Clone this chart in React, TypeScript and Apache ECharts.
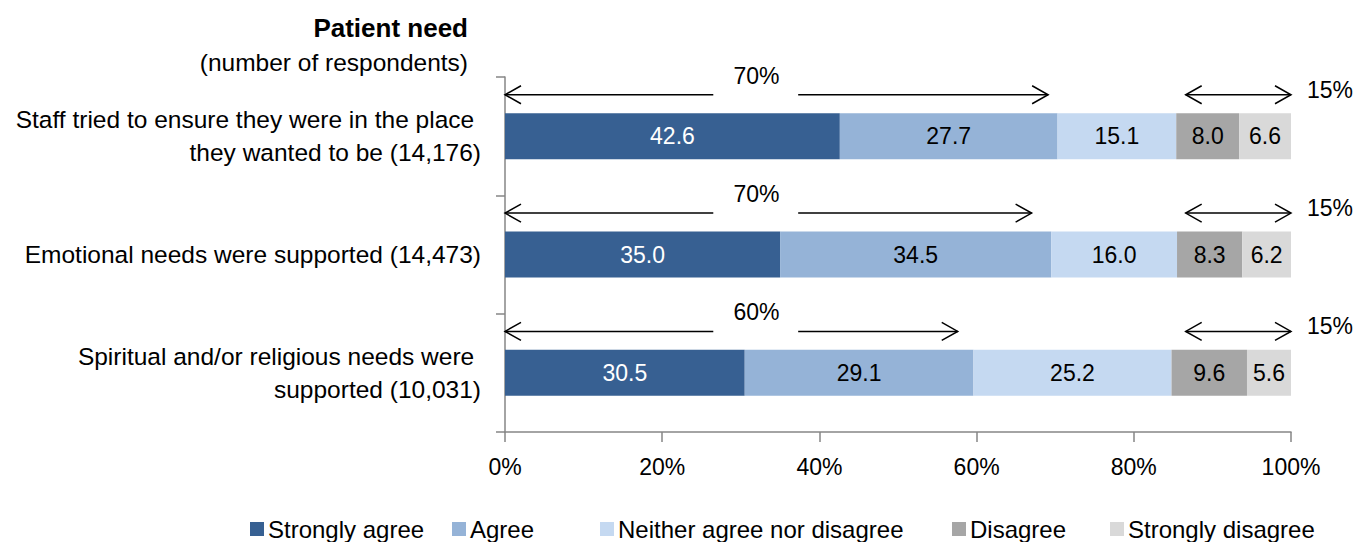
import React, { useEffect, useRef } from "react";
import * as echarts from "echarts";

const categories = [
  "Staff tried to ensure they were in the place \nthey wanted to be (14,176)",
  "Emotional needs were supported (14,473)",
  "Spiritual and/or religious needs were \nsupported (10,031)",
];
const seriesNames = [
  "Strongly agree",
  "Agree",
  "Neither agree nor disagree",
  "Disagree",
  "Strongly disagree",
];
const strongAgree = [42.6, 35.0, 30.5];
const agree = [27.7, 34.5, 29.1];
const neither = [15.1, 16.0, 25.2];
const disagree = [8.0, 8.3, 9.6];
const strongDisagree = [6.6, 6.2, 5.6];
const xTicks = [0, 20, 40, 60, 80, 100];

const agreeArrowEnd = [69.1, 67.0, 57.6];
const agreeArrowLabel = ["70%", "70%", "60%"];
const disagreeArrowStart = [86.6, 86.6, 86.6];
const disagreeArrowLabel = ["15%", "15%", "15%"];

const colors = ["#376092", "#95B3D7", "#C5D9F1", "#A6A6A6", "#D9D9D9"];
const labelColors = ["#ffffff", "#000000", "#000000", "#000000", "#000000"];
const legendLefts = [250, 452, 600, 952, 1110];
const FONT = "'Liberation Sans', Arial, sans-serif";
const FS = 23;

export default function App() {
  const ref = useRef<HTMLDivElement>(null);
  useEffect(() => {
    if (!ref.current) return;
    document.body.style.margin = "0";
    const chart = echarts.init(ref.current, null, { renderer: "svg" });
    const values = [strongAgree, agree, neither, disagree, strongDisagree];

    const chevron = (x: number, y: number, dir: number) => ({
      type: "polyline",
      shape: { points: [[x + dir * 16, y - 9], [x, y], [x + dir * 16, y + 9]] },
      style: { stroke: "#000", lineWidth: 1.5, fill: null },
    });

    const leftArrowSeries = {
      type: "custom",
      silent: true,
      clip: false,
      z: 10,
      encode: { x: [1, 2], y: 0 },
      data: agreeArrowEnd.map((e, i) => [i, 0, e]),
      renderItem: (params: any, api: any) => {
        const i = params.dataIndex;
        const cat = api.value(0);
        const p0 = api.coord([api.value(1), cat]);
        const p1 = api.coord([api.value(2), cat]);
        const band = api.size([0, 1])[1];
        const y = p0[1] - band * 0.35;
        const g0 = api.coord([26.5, cat])[0];
        const g1 = api.coord([37.3, cat])[0];
        const tc = api.coord([32, cat])[0];
        return {
          type: "group",
          children: [
            { type: "line", shape: { x1: p0[0], y1: y, x2: g0, y2: y }, style: { stroke: "#000", lineWidth: 1.5 } },
            { type: "line", shape: { x1: g1, y1: y, x2: p1[0], y2: y }, style: { stroke: "#000", lineWidth: 1.5 } },
            chevron(p0[0], y, 1),
            chevron(p1[0], y, -1),
            {
              type: "text",
              x: tc,
              y: y - 19,
              style: { text: agreeArrowLabel[i], fontSize: FS, fontFamily: FONT, fill: "#000", align: "center", verticalAlign: "middle" },
            },
          ],
        };
      },
    };

    const rightArrowSeries = {
      type: "custom",
      silent: true,
      clip: false,
      z: 10,
      encode: { x: [1, 2], y: 0 },
      data: disagreeArrowStart.map((s, i) => [i, s, 100]),
      renderItem: (params: any, api: any) => {
        const i = params.dataIndex;
        const cat = api.value(0);
        const p0 = api.coord([api.value(1), cat]);
        const p1 = api.coord([api.value(2), cat]);
        const band = api.size([0, 1])[1];
        const y = p0[1] - band * 0.35;
        return {
          type: "group",
          children: [
            { type: "line", shape: { x1: p0[0], y1: y, x2: p1[0], y2: y }, style: { stroke: "#000", lineWidth: 1.5 } },
            chevron(p0[0], y, 1),
            chevron(p1[0], y, -1),
            {
              type: "text",
              x: p1[0] + 16,
              y: y - 5,
              style: { text: disagreeArrowLabel[i], fontSize: FS, fontFamily: FONT, fill: "#000", align: "left", verticalAlign: "middle" },
            },
          ],
        };
      },
    };

    chart.setOption({
      animation: false,
      textStyle: { fontFamily: FONT },
      grid: { left: 505, right: 67, top: 77, bottom: 110, containLabel: false },
      legend: seriesNames.map((name, k) => ({
        left: legendLefts[k],
        top: 517,
        padding: 0,
        itemWidth: 14,
        itemHeight: 14,
        itemGap: 0,
        icon: "rect",
        data: [name],
        textStyle: { fontSize: 24, color: "#000", fontFamily: FONT, padding: [0, 0, 0, -1] },
      })),
      graphic: [
        {
          type: "text",
          x: 468,
          y: 28,
          style: { text: "Patient need", fontSize: 26, fontWeight: "bold", fontFamily: FONT, fill: "#000", align: "right", verticalAlign: "middle" },
        },
        {
          type: "text",
          x: 468,
          y: 62,
          style: { text: "(number of respondents)", fontSize: 24.5, fontFamily: FONT, fill: "#000", align: "right", verticalAlign: "middle" },
        },
      ],
      xAxis: {
        type: "value",
        min: xTicks[0],
        max: xTicks[xTicks.length - 1],
        interval: 20,
        axisLine: { show: true, lineStyle: { color: "#868686", width: 1.5 } },
        axisTick: { show: true, length: 10, lineStyle: { color: "#868686", width: 1.5 } },
        splitLine: { show: false },
        axisLabel: { formatter: "{value}%", fontSize: FS, color: "#000", margin: 23, fontFamily: FONT },
      },
      yAxis: {
        type: "category",
        inverse: true,
        data: categories,
        axisLine: { show: true, lineStyle: { color: "#868686", width: 1.5 } },
        axisTick: { show: true, length: 9, alignWithLabel: false, lineStyle: { color: "#868686", width: 1.5 } },
        axisLabel: { fontSize: 24.5, color: "#000", margin: 24, lineHeight: 33, align: "right", fontFamily: FONT },
      },
      series: [
        ...seriesNames.map((name, k) => ({
          name,
          type: "bar",
          stack: "total",
          barWidth: 46,
          data: values[k],
          itemStyle: { color: colors[k] },
          label: {
            show: true,
            position: "inside",
            formatter: (p: any) => Number(p.value).toFixed(1),
            fontSize: FS,
            color: labelColors[k],
            fontFamily: FONT,
          },
        })),
        leftArrowSeries,
        rightArrowSeries,
      ],
    });
    return () => chart.dispose();
  }, []);
  return <div ref={ref} style={{ width: 1358, height: 542 }} />;
}
